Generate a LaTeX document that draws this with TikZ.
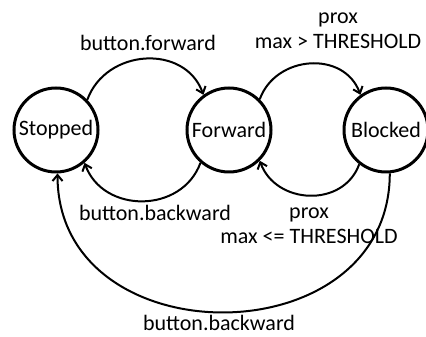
\documentclass[tikz,border=0pt]{standalone}
\usepackage{fontspec}
\setmainfont{Carlito}
\usetikzlibrary{arrows.meta}

\begin{document}
\begin{tikzpicture}[x=1pt,y=1pt,
  stnode/.style={draw=black,circle,line width=3pt,minimum size=84pt,inner sep=0pt,font=\fontsize{22}{25}\selectfont},
  arr/.style={line width=2pt,-{Straight Barb[length=6pt,width=10pt]}},
  lbl/.style={align=center,inner sep=0pt,font=\fontsize{22}{25}\selectfont}]
\useasboundingbox (0,0) rectangle (426,337);
\node[stnode] (S) at (56,207) {Stopped};
\node[stnode] (F) at (229,207) {Forward};
\node[stnode] (B) at (386,207) {Blocked};
\draw[arr] (S.44) to[out=70,in=110,looseness=1.2] (F.126);
\draw[arr] (F.45) to[out=70,in=110,looseness=1.2] (B.126);
\draw[arr] (F.-131) to[out=-110,in=-70,looseness=1.2] (S.-49);
\draw[arr] (B.-128) to[out=-110,in=-70,looseness=1.2] (F.-45);
\draw[arr] (B.-85) .. controls +(0,-185) and +(0,-185) .. (S.-88);
\node[lbl] (fwd) at (148,294) {button.forward};
\node[lbl] (blk) at (338,306) {prox\\max > THRESHOLD};
\node[lbl] (bwd) at (155,124) {button.backward};
\node[lbl] (unb) at (309,111) {prox\\max <= THRESHOLD};
\node[lbl] (bwd2) at (219,14) {button.backward};
\end{tikzpicture}
\end{document}
